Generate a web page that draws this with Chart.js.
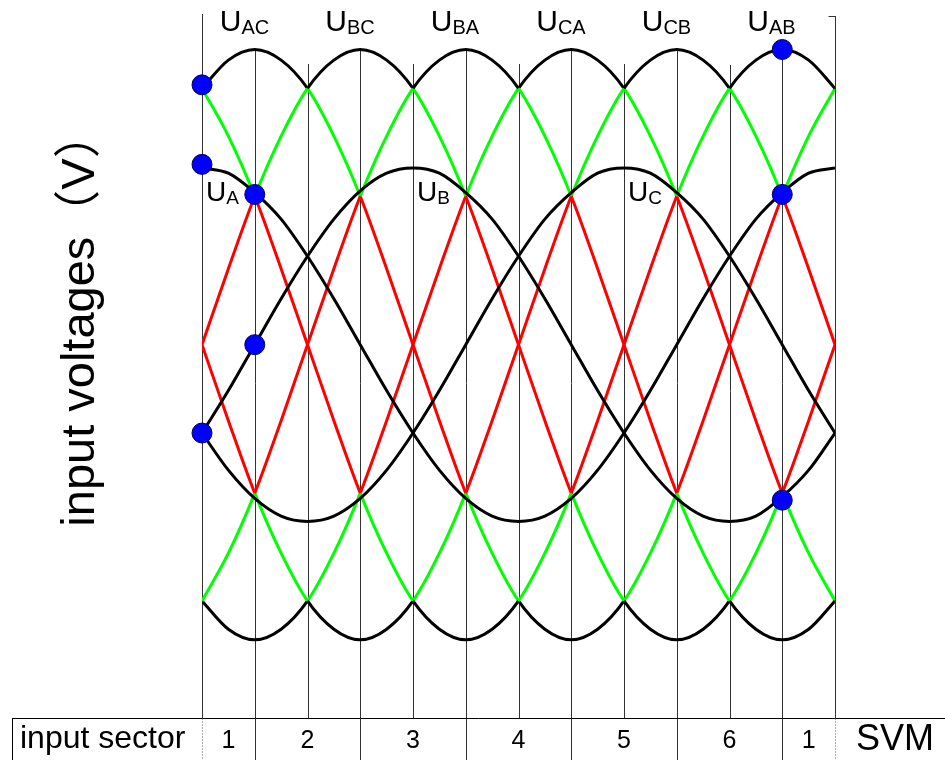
<!DOCTYPE html>
<html>
<head>
<meta charset="utf-8">
<title>Input voltages and input sectors</title>
<script src="https://cdn.jsdelivr.net/npm/chart.js@4.4.1/dist/chart.umd.min.js"></script>
<style>
  html, body { margin: 0; padding: 0; background: #fff; }
  #wrap { width: 945px; height: 760px; position: relative; }
</style>
</head>
<body>
<div id="wrap"><canvas id="svmChart"></canvas></div>
<script>
// input angle, degrees
const angles = [0, 15, 30, 45, 60, 75, 90, 105, 120, 135, 150, 165, 180,
                195, 210, 225, 240, 255, 270, 285, 300, 315, 330, 345, 360];

// phase voltages, per unit of phase peak
const uA = [1.00, 0.97, 0.86, 0.71, 0.50, 0.26, 0.00, -0.26, -0.50, -0.71, -0.87, -0.97, -1.00,
            -0.97, -0.87, -0.71, -0.50, -0.26, 0.00, 0.26, 0.50, 0.71, 0.86, 0.97, 1.00];
const uB = [-0.50, -0.26, 0.00, 0.26, 0.50, 0.71, 0.87, 0.97, 1.00, 0.97, 0.86, 0.71, 0.50,
            0.26, 0.00, -0.26, -0.50, -0.71, -0.87, -0.97, -1.00, -0.97, -0.86, -0.71, -0.50];
const uC = [-0.50, -0.71, -0.87, -0.97, -1.00, -0.97, -0.87, -0.71, -0.50, -0.26, 0.00, 0.26, 0.50,
            0.71, 0.86, 0.97, 1.00, 0.97, 0.86, 0.71, 0.50, 0.26, 0.00, -0.26, -0.50];

// line-to-line voltages, same unit
const uAB = [1.45, 1.18, 0.84, 0.43, 0.00, -0.43, -0.84, -1.18, -1.45, -1.61, -1.67, -1.61, -1.45,
             -1.18, -0.84, -0.43, 0.00, 0.43, 0.84, 1.18, 1.45, 1.61, 1.67, 1.61, 1.45];
const uBA = [-1.45, -1.18, -0.84, -0.43, 0.00, 0.43, 0.84, 1.18, 1.45, 1.61, 1.67, 1.61, 1.45,
             1.18, 0.84, 0.43, 0.00, -0.43, -0.84, -1.18, -1.45, -1.61, -1.67, -1.61, -1.45];
const uBC = [0.00, 0.43, 0.84, 1.18, 1.45, 1.61, 1.67, 1.61, 1.45, 1.18, 0.84, 0.43, 0.00,
             -0.43, -0.84, -1.18, -1.45, -1.61, -1.67, -1.61, -1.45, -1.18, -0.84, -0.43, 0.00];
const uCB = [0.00, -0.43, -0.84, -1.18, -1.45, -1.61, -1.67, -1.61, -1.45, -1.18, -0.84, -0.43, 0.00,
             0.43, 0.84, 1.18, 1.45, 1.61, 1.67, 1.61, 1.45, 1.18, 0.84, 0.43, 0.00];
const uCA = [-1.45, -1.61, -1.67, -1.61, -1.45, -1.18, -0.84, -0.43, 0.00, 0.43, 0.84, 1.18, 1.45,
             1.61, 1.67, 1.61, 1.45, 1.18, 0.84, 0.43, 0.00, -0.43, -0.84, -1.18, -1.45];
const uAC = [1.45, 1.61, 1.67, 1.61, 1.45, 1.18, 0.84, 0.43, 0.00, -0.43, -0.84, -1.18, -1.45,
             -1.61, -1.67, -1.61, -1.45, -1.18, -0.84, -0.43, 0.00, 0.43, 0.84, 1.18, 1.45];

// sampled voltages marked with dots
const markAngles = [0, 0, 0, 30, 30, 330, 330, 330];
const markValues = [1.47, 1.02, -0.50, 0.85, 0.00, 1.67, 0.85, -0.88];

// curve names, placed by the angle of each curve's peak
const lineNames = ['AC', 'BC', 'BA', 'CA', 'CB', 'AB'];
const linePeaks = [30, 90, 150, 210, 270, 330];
const phaseNames = ['A', 'B', 'C'];
const phasePeaks = [0, 120, 240];

// input sector table
const sectorEdges = [0, 30, 90, 150, 210, 270, 330, 360];
const sectorNames = ['1', '2', '3', '4', '5', '6', '1'];
const gridAngles = [0, 30, 60, 90, 120, 150, 180, 210, 240, 270, 300, 330, 360];

// colour bands of the line voltages (|u| limits)
const redBelow = 0.85;
const blackAbove = 1.45;

const FONT = '"Liberation Sans", Arial, "Noto Sans CJK SC", sans-serif';

function bandColour(ctx) {
    const mid = (Math.abs(ctx.p0.parsed.y) + Math.abs(ctx.p1.parsed.y)) / 2;
    if (mid >= blackAbove) return '#000000';
    if (mid >= redBelow) return '#00ff00';
    return '#ff0000';
}

function points(values) {
    return angles.map((a, i) => ({ x: a, y: values[i] }));
}

function lineVoltage(label, values) {
    return {
        label: label,
        data: points(values),
        borderColor: '#000',
        borderWidth: 3,
        pointRadius: 0,
        cubicInterpolationMode: 'monotone',
        segment: { borderColor: bandColour },
        order: 2
    };
}

function phaseVoltage(label, values) {
    return {
        label: label,
        data: points(values),
        borderColor: '#000',
        borderWidth: 3,
        pointRadius: 0,
        cubicInterpolationMode: 'monotone',
        order: 1
    };
}

function drawU(ctx, sub, left, base, size, subSize) {
    ctx.font = size + 'px ' + FONT;
    ctx.fillText('U', left, base);
    const w = ctx.measureText('U').width;
    ctx.font = subSize + 'px ' + FONT;
    ctx.fillText(sub, left + w, base + 3);
}

// guide lines, curve names, axis title and the sector table
const svmDecor = {
    id: 'svmDecor',
    beforeDatasetsDraw(chart, args, opts) {
        const { ctx, scales: { x, y } } = chart;
        ctx.save();
        ctx.strokeStyle = '#333';
        ctx.lineWidth = 1;
        gridAngles.forEach((a, i) => {
            const px = Math.round(x.getPixelForValue(a)) + 0.5;
            const top = Math.round(y.getPixelForValue(opts.guideTops[i]));
            ctx.beginPath();
            ctx.moveTo(px, top);
            ctx.lineTo(px, opts.tableTop);
            ctx.stroke();
            if (i === gridAngles.length - 1) {
                ctx.beginPath();
                ctx.moveTo(px - 7, top + 0.5);
                ctx.lineTo(px, top + 0.5);
                ctx.stroke();
            }
        });
        ctx.restore();
    },
    afterDraw(chart, args, opts) {
        const { ctx, scales: { x, y } } = chart;
        const bottom = chart.height;
        ctx.save();
        ctx.fillStyle = '#000';
        ctx.textAlign = 'left';
        ctx.textBaseline = 'alphabetic';

        // line-to-line voltage names above the envelope
        lineNames.forEach((n, i) => {
            drawU(ctx, n, x.getPixelForValue(linePeaks[i]) - 35, 30.5, 30, 20);
        });
        // phase voltage names
        phaseNames.forEach((n, i) => {
            drawU(ctx, n, x.getPixelForValue(phasePeaks[i]) + 4, y.getPixelForValue(0.81), 28, 19);
        });

        // axis title
        ctx.save();
        ctx.translate(94, 319);
        ctx.rotate(-Math.PI / 2);
        ctx.textAlign = 'center';
        ctx.font = '47px ' + FONT;
        ctx.fillText('input voltages（V）', 0, 0);
        ctx.restore();

        // table frame
        const tt = opts.tableTop + 0.5;
        ctx.strokeStyle = '#000';
        ctx.lineWidth = 1;
        ctx.beginPath();
        ctx.moveTo(12, tt);
        ctx.lineTo(chart.width, tt);
        ctx.moveTo(12.5, tt);
        ctx.lineTo(12.5, bottom);
        ctx.stroke();

        sectorEdges.forEach((a, i) => {
            const px = Math.round(x.getPixelForValue(a)) + 0.5;
            const edge = i === 0 || i === sectorEdges.length - 1;
            ctx.setLineDash(edge ? [1, 2] : []);
            ctx.strokeStyle = edge ? '#555' : '#333';
            ctx.beginPath();
            ctx.moveTo(px, tt);
            ctx.lineTo(px, bottom);
            ctx.stroke();
        });
        ctx.setLineDash([]);

        const base = 748;
        ctx.font = '32px ' + FONT;
        ctx.fillText('input sector', 20, base);
        ctx.textAlign = 'center';
        ctx.font = '25px ' + FONT;
        sectorNames.forEach((n, i) => {
            const mid = (x.getPixelForValue(sectorEdges[i]) + x.getPixelForValue(sectorEdges[i + 1])) / 2;
            ctx.fillText(n, mid, base);
        });
        ctx.textAlign = 'left';
        ctx.font = '36px ' + FONT;
        ctx.fillText('SVM', 856, base + 2);
        ctx.restore();
    }
};

const chart = new Chart(document.getElementById('svmChart'), {
    type: 'line',
    data: {
        datasets: [
            {
                label: 'samples',
                data: markAngles.map((a, i) => ({ x: a, y: markValues[i] })),
                showLine: false,
                pointRadius: 10,
                pointBackgroundColor: '#0000ff',
                pointBorderColor: '#00005a',
                pointBorderWidth: 1,
                clip: false,
                order: 0
            },
            phaseVoltage('UA', uA),
            phaseVoltage('UB', uB),
            phaseVoltage('UC', uC),
            lineVoltage('UAB', uAB),
            lineVoltage('UBA', uBA),
            lineVoltage('UBC', uBC),
            lineVoltage('UCB', uCB),
            lineVoltage('UCA', uCA),
            lineVoltage('UAC', uAC)
        ]
    },
    options: {
        responsive: true,
        maintainAspectRatio: false,
        animation: false,
        layout: { autoPadding: false, padding: { left: 202, right: 110, top: 0, bottom: 0 } },
        scales: {
            x: { type: 'linear', min: 0, max: 360, display: false },
            y: { type: 'linear', min: -2.35, max: 1.95, display: false }
        },
        plugins: {
            legend: { display: false },
            tooltip: { enabled: false },
            svmDecor: {
                tableTop: 718,
                guideTops: [1.87, 1.67, 1.59, 1.67, 1.59, 1.67, 1.59, 1.67, 1.59, 1.67, 1.58, 1.67, 1.86]
            }
        }
    },
    plugins: [svmDecor]
});
</script>
</body>
</html>
